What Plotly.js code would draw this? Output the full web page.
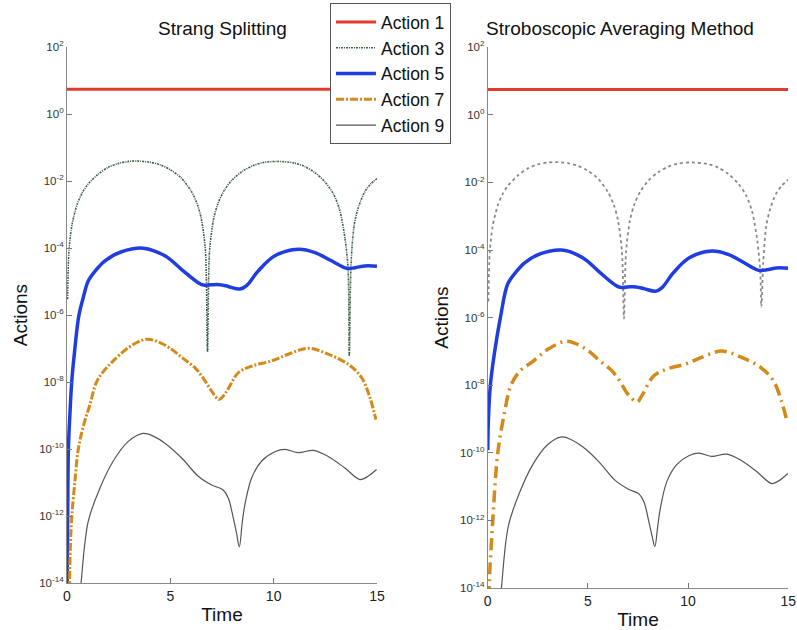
<!DOCTYPE html>
<html>
<head>
<meta charset="utf-8">
<script src="https://cdn.plot.ly/plotly-3.0.1.min.js"></script>
<style>html,body{margin:0;padding:0;background:#fff;}#chart{width:797px;height:630px;}</style>
</head>
<body>
<div id="chart"></div>
<script>
// ---------- data ----------
const seriesNames = ["Action 1", "Action 3", "Action 5", "Action 7", "Action 9"];
const xTickVals = [0, 5, 10, 15];
const yTickVals = [1e2, 1e0, 1e-2, 1e-4, 1e-6, 1e-8, 1e-10, 1e-12, 1e-14];
const yTickText = ["10<sup>2</sup>", "10<sup>0</sup>", "10<sup>-2</sup>", "10<sup>-4</sup>", "10<sup>-6</sup>",
                   "10<sup>-8</sup>", "10<sup>-10</sup>", "10<sup>-12</sup>", "10<sup>-14</sup>"];

// Action 1 (both panels)
const t1 = [0, 15];
const a1 = [5.6, 5.6];

// Action 3
const t3 = [0.03, 0.1, 0.25, 0.5, 0.75, 1, 1.5, 2, 2.5, 3, 3.4, 4, 4.5, 5, 5.5, 6, 6.3, 6.5, 6.7, 6.8, 6.9, 7.1, 7.3, 7.6,
            8, 8.5, 9, 9.5, 10.2, 11, 11.5, 12, 12.5, 12.9, 13.2, 13.45, 13.6, 13.66, 13.75, 13.9, 14.1, 14.4, 14.7, 15];
const a3Left = [3e-6, 8.5e-5, 5.2e-4, 2.1e-3, 4.6e-3, 7.9e-3, 1.6e-2, 2.6e-2, 3.4e-2, 3.9e-2, 4.0e-2, 3.7e-2, 3.1e-2, 2.2e-2,
                1.3e-2, 5.2e-3, 2.1e-3, 7.6e-4, 8.5e-5, 8e-8, 8.5e-5, 7.6e-4, 2.1e-3, 5.2e-3,
                1.1e-2, 2.0e-2, 2.9e-2, 3.6e-2, 3.9e-2, 3.5e-2, 2.75e-2, 1.8e-2, 9.3e-3, 4.1e-3, 1.35e-3, 2e-4, 2.5e-5, 6e-8,
                4e-5, 5e-4, 1.65e-3, 4.7e-3, 8.3e-3, 1.2e-2];
const a3Right = [3e-6, 8.5e-5, 5.2e-4, 2.1e-3, 4.6e-3, 7.9e-3, 1.6e-2, 2.6e-2, 3.4e-2, 3.9e-2, 4.0e-2, 3.7e-2, 3.1e-2, 2.2e-2,
                 1.3e-2, 5.2e-3, 2.1e-3, 7.6e-4, 8.5e-5, 9.3e-7, 8.5e-5, 7.6e-4, 2.1e-3, 5.2e-3,
                 1.1e-2, 2.0e-2, 2.9e-2, 3.6e-2, 3.9e-2, 3.5e-2, 2.75e-2, 1.8e-2, 9.3e-3, 4.1e-3, 1.35e-3, 2e-4, 2.5e-5, 2.1e-6,
                 4e-5, 5e-4, 1.65e-3, 4.7e-3, 8.3e-3, 1.2e-2];

// Action 5
const t5Left = [0, 0.03, 0.07, 0.14, 0.23, 0.35, 0.58, 0.78, 1.03, 1.4, 1.84, 2.64, 3.69, 4.74, 5.55, 6.35, 6.6, 7.0, 7.4,
                7.8, 8.37, 8.69, 9.26, 10.06, 11.19, 12.0, 12.8, 13.53, 13.93, 14.42, 15];
const a5Left = [3e-15, 3e-13, 1e-10, 1e-9, 1e-8, 6.3e-8, 1e-6, 3.2e-6, 1.05e-5, 2.2e-5, 4.2e-5, 7.8e-5, 1e-4, 5.9e-5, 2.3e-5,
                9.3e-6, 7.9e-6, 8.1e-6, 8.1e-6, 7.2e-6, 6e-6, 7.6e-6, 2.1e-5, 5.9e-5, 9.3e-5, 7.4e-5, 4.2e-5, 2.5e-5,
                2.6e-5, 2.95e-5, 2.9e-5];
const t5Right = [0, 0.03, 0.13, 0.33, 0.63, 1.0, 1.4, 1.84, 2.64, 3.69, 4.74, 5.55, 6.35, 6.6, 7.0, 7.4,
                 7.8, 8.37, 8.69, 9.26, 10.06, 11.19, 12.0, 12.8, 13.53, 13.93, 14.42, 15];
const a5Right = [1.2e-10, 9e-10, 1e-8, 8.7e-8, 1e-6, 1.0e-5, 2.2e-5, 4.2e-5, 7.8e-5, 1e-4, 5.9e-5, 2.3e-5,
                 9.3e-6, 7.9e-6, 8.1e-6, 8.1e-6, 7.2e-6, 6e-6, 7.6e-6, 2.1e-5, 5.9e-5, 9.3e-5, 7.4e-5, 4.2e-5, 2.5e-5,
                 2.6e-5, 2.95e-5, 2.9e-5];

// Action 7
const t7Left = [0.12, 0.16, 0.23, 0.38, 0.55, 0.8, 1.11, 1.43, 1.8, 2.24, 3.0, 3.85, 4.5, 5.06, 5.6, 6.19, 6.6, 7.0, 7.35,
                7.56, 7.8, 8.29, 8.94, 9.9, 10.71, 11.67, 12.64, 13.61, 14.26, 14.66, 14.95];
const a7Left = [5e-15, 1e-13, 8.7e-13, 1e-11, 1e-10, 5e-10, 2.1e-9, 1e-8, 2.2e-8, 4.3e-8, 1.1e-7, 1.9e-7, 1.5e-7, 9.5e-8,
                5.2e-8, 2.7e-8, 1.3e-8, 5.4e-9, 3e-9, 3.8e-9, 6.3e-9, 1.9e-8, 3e-8, 4.3e-8, 6.8e-8, 1.02e-7, 6.8e-8,
                3.4e-8, 1.35e-8, 3.4e-9, 7.6e-10];
const t7Right = [0.06, 0.08, 0.25, 0.5, 0.8, 1.16, 1.6, 2.24, 3.0, 3.9, 4.5, 5.06, 5.6, 6.19, 6.6, 7.0, 7.46,
                 7.7, 8.29, 8.94, 9.9, 10.71, 11.67, 12.64, 13.61, 14.26, 14.66, 14.95];
const a7Right = [5e-15, 1.6e-14, 1e-12, 1e-10, 1.2e-9, 1e-8, 2.6e-8, 5e-8, 1.15e-7, 2.0e-7, 1.6e-7, 1e-7,
                 5.2e-8, 2.7e-8, 1.3e-8, 5.4e-9, 3.2e-9, 5e-9, 1.9e-8, 3e-8, 4.3e-8, 6.8e-8, 1.02e-7, 6.8e-8,
                 3.4e-8, 1.35e-8, 3.4e-9, 8e-10];

// Action 9
const t9 = [0.62, 0.68, 1.03, 1.6, 2.24, 2.97, 3.69, 4.2, 4.74, 5.55, 6.35, 7.0, 7.56, 7.8, 8.05, 8.2, 8.34, 8.48, 8.61,
            8.94, 9.42, 10.06, 10.55, 11.19, 11.92, 12.64, 13.45, 14.17, 14.5, 14.98];
const a9Left = [5e-15, 1e-14, 6.9e-13, 6.9e-12, 4.4e-11, 1.7e-10, 2.95e-10, 2.4e-10, 1.5e-10, 5.4e-11, 1.55e-11, 8.5e-12,
                6e-12, 3.5e-12, 8.7e-13, 3.2e-13, 1.2e-13, 6.3e-13, 2.2e-12, 1.4e-11, 4.4e-11, 8.3e-11, 9.8e-11,
                7.8e-11, 9.1e-11, 6e-11, 2.7e-11, 1.23e-11, 1.45e-11, 2.45e-11];
const a9Right = [5e-15, 1e-14, 6.9e-13, 6.9e-12, 4.4e-11, 1.7e-10, 2.95e-10, 2.4e-10, 1.5e-10, 5.4e-11, 1.55e-11, 8.5e-12,
                 6e-12, 3.5e-12, 8.7e-13, 3.5e-13, 1.66e-13, 6.3e-13, 2.2e-12, 1.4e-11, 4.4e-11, 8.3e-11, 9.8e-11,
                 7.8e-11, 9.1e-11, 6e-11, 2.7e-11, 1.23e-11, 1.45e-11, 2.45e-11];

// ---------- styling ----------
const FONT = "Liberation Sans, Arial, sans-serif";
const styles = {
  a1: {color: "#e23b2e", width: 3, dash: "solid"},
  a3L: {color: "#3d5e45", width: 1.6, dash: "2px,1px,1px,1px", shape: "spline", smoothing: 0.8},
  a3R: {color: "#8a8a8a", width: 1.8, dash: "dot", shape: "spline", smoothing: 0.8},
  a5: {color: "#1f3de0", width: 3.5, dash: "solid", shape: "spline", smoothing: 1},
  a7L: {color: "#d48a1a", width: 3, dash: "8px,2px,2px,2px", shape: "spline", smoothing: 1},
  a7R: {color: "#d48a1a", width: 3.5, dash: "12px,5px,2px,5px", shape: "spline", smoothing: 1},
  a9: {color: "#555555", width: 1.2, dash: "solid", shape: "spline", smoothing: 1}
};

function tr(x, y, name, line, axis, show) {
  return {x: x, y: y, name: name, type: "scatter", mode: "lines", line: line,
          xaxis: axis === 2 ? "x2" : "x", yaxis: axis === 2 ? "y2" : "y",
          showlegend: show, hoverinfo: "skip"};
}

const data = [
  tr(t1, a1, seriesNames[0], styles.a1, 1, true),
  tr(t3, a3Left, seriesNames[1], styles.a3L, 1, true),
  tr(t5Left, a5Left, seriesNames[2], styles.a5, 1, true),
  tr(t7Left, a7Left, seriesNames[3], styles.a7L, 1, true),
  tr(t9, a9Left, seriesNames[4], styles.a9, 1, true),
  tr(t1, a1, seriesNames[0], styles.a1, 2, false),
  tr(t3, a3Right, seriesNames[1], styles.a3R, 2, false),
  tr(t5Right, a5Right, seriesNames[2], styles.a5, 2, false),
  tr(t7Right, a7Right, seriesNames[3], styles.a7R, 2, false),
  tr(t9, a9Right, seriesNames[4], styles.a9, 2, false)
];

function xax(domain, anchor) {
  return {domain: domain, anchor: anchor, range: [0, 15], tickvals: xTickVals, ticks: "inside", ticklen: 5,
          tickcolor: "#777", showline: true, linecolor: "#888", linewidth: 1, showgrid: false, zeroline: false,
          ticklabeloverflow: "allow",
          tickfont: {family: FONT, size: 14, color: "#222"},
          title: {text: "Time", font: {family: FONT, size: 19, color: "#111"}, standoff: 4}};
}
function yax(domain, anchor) {
  return {domain: domain, anchor: anchor, type: "log", range: [-14, 2], tickvals: yTickVals, ticktext: yTickText,
          ticks: "inside", ticklen: 5, tickcolor: "#777", showline: true, linecolor: "#888", linewidth: 1,
          showgrid: false, zeroline: false, tickfont: {family: FONT, size: 11.5, color: "#333"},
          title: {text: "Actions", font: {family: FONT, size: 19, color: "#111"}, standoff: 6}};
}

const layout = {
  width: 797, height: 630,
  margin: {l: 0, r: 0, t: 0, b: 0},
  paper_bgcolor: "#fff", plot_bgcolor: "#fff",
  showlegend: true,
  xaxis: xax([0.084, 0.473], "y"),
  yaxis: yax([0.0746, 0.925], "x"),
  xaxis2: xax([0.612, 0.989], "y2"),
  yaxis2: yax([0.0667, 0.925], "x2"),
  legend: {x: 0.414, y: 0.995, xanchor: "left", yanchor: "top", bgcolor: "#fff", bordercolor: "#555",
           borderwidth: 1, font: {family: FONT, size: 17.5, color: "#111"}, itemwidth: 40},
  annotations: [
    {text: "Strang Splitting", xref: "paper", yref: "paper", x: 0.279, y: 0.955, xanchor: "center",
     yanchor: "middle", showarrow: false, font: {family: FONT, size: 19, color: "#111"}},
    {text: "Stroboscopic Averaging Method", xref: "paper", yref: "paper", x: 0.778, y: 0.955, xanchor: "center",
     yanchor: "middle", showarrow: false, font: {family: FONT, size: 19, color: "#111"}}
  ]
};

Plotly.newPlot("chart", data, layout, {displayModeBar: false, staticPlot: true});
</script>
</body>
</html>
